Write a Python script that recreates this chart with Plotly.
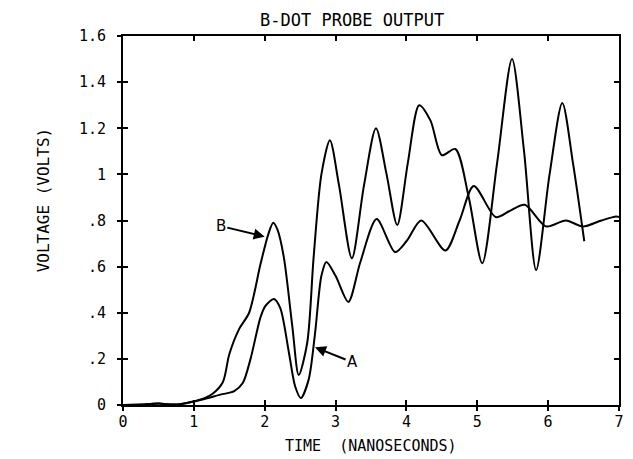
import plotly.graph_objects as go

# Curve A (lower, smoother trace)
t_a = [0, 0.3, 0.5, 0.7, 0.8, 1.0, 1.2, 1.36, 1.57, 1.69, 1.8, 1.94, 2.01, 2.13, 2.22, 2.34, 2.43,
       2.51, 2.62, 2.71, 2.80, 2.87, 3.0, 3.18, 3.35, 3.58, 3.84, 4.0, 4.21, 4.55, 4.75, 4.95,
       5.26, 5.45, 5.67, 5.97, 6.25, 6.49, 6.75, 6.96, 7.0]
v_a = [0, 0.002, 0.006, 0.002, 0.003, 0.015, 0.03, 0.044, 0.06, 0.095, 0.20, 0.38, 0.43, 0.46, 0.42, 0.23, 0.08,
       0.03, 0.11, 0.31, 0.56, 0.62, 0.56, 0.447, 0.62, 0.806, 0.663, 0.71, 0.80, 0.67, 0.80, 0.95,
       0.815, 0.84, 0.868, 0.774, 0.80, 0.774, 0.80, 0.817, 0.815]

# Curve B (oscillating trace)
t_b = [0, 0.3, 0.5, 0.7, 0.8, 0.99, 1.15, 1.27, 1.41, 1.50, 1.64, 1.78, 1.94, 2.05, 2.12, 2.18, 2.27,
       2.39, 2.48, 2.60, 2.69, 2.80, 2.92, 3.05, 3.23, 3.40, 3.57, 3.72, 3.87, 4.02, 4.18, 4.34,
       4.50, 4.69, 4.88, 5.07, 5.28, 5.49, 5.66, 5.83, 6.02, 6.20, 6.35, 6.51]
v_b = [0, 0.002, 0.006, 0.002, 0.003, 0.015, 0.03, 0.05, 0.10, 0.22, 0.33, 0.40, 0.61, 0.74, 0.79, 0.76, 0.64,
       0.34, 0.13, 0.27, 0.64, 1.0, 1.148, 0.95, 0.636, 0.95, 1.20, 1.0, 0.78, 1.05, 1.30, 1.233,
       1.083, 1.11, 0.90, 0.615, 1.05, 1.50, 1.1, 0.585, 1.0, 1.31, 1.05, 0.71]

x_ticks = [0, 1, 2, 3, 4, 5, 6, 7]
x_labels = ["0", "1", "2", "3", "4", "5", "6", "7"]
y_ticks = [0, 0.2, 0.4, 0.6, 0.8, 1.0, 1.2, 1.4, 1.6]
y_labels = ["0", ".2", ".4", ".6", ".8", "1", "1.2", "1.4", "1.6"]

title_text = "B-DOT PROBE OUTPUT"
x_title = "TIME  (NANOSECONDS)"
y_title = "VOLTAGE (VOLTS)"

FONT = "DejaVu Sans Mono"
PLOT_H = 369  # plot area height in px

fig = go.Figure()
line = dict(color="black", width=2, shape="spline", smoothing=0.8)
fig.add_trace(go.Scatter(x=t_a, y=v_a, mode="lines", line=line, showlegend=False, hoverinfo="skip"))
fig.add_trace(go.Scatter(x=t_b, y=v_b, mode="lines", line=line, showlegend=False, hoverinfo="skip"))
# invisible trace to activate overlay axes (used only for outward tick marks)
fig.add_trace(go.Scatter(x=[0], y=[0], xaxis="x2", yaxis="y2", mode="markers",
                         marker=dict(opacity=0), showlegend=False, hoverinfo="skip"))

tickfont = dict(family=FONT, size=15, color="black")
# page body has an 8px default margin, so the figure is drawn 8px smaller
fig.update_layout(
    width=625, height=451,
    margin=dict(l=115, r=9, t=28, b=54),
    paper_bgcolor="white", plot_bgcolor="white",
    xaxis=dict(range=[0, 7], tickvals=x_ticks, ticktext=x_labels, tickfont=tickfont,
               ticks="inside", ticklen=5, ticklabelstandoff=2,
               tickwidth=2, tickcolor="black", mirror="ticks", showline=True, linecolor="black",
               linewidth=2, showgrid=False, zeroline=False),
    yaxis=dict(range=[0, 1.6], tickvals=y_ticks, ticktext=y_labels, tickfont=tickfont,
               ticks="inside", ticklen=5, ticklabelstandoff=12,
               tickwidth=2, tickcolor="black", mirror="ticks", showline=True, linecolor="black",
               linewidth=2, showgrid=False, zeroline=False),
    xaxis2=dict(range=[0, 7], overlaying="x", side="bottom", tickvals=x_ticks, showticklabels=False,
                ticks="outside", ticklen=5, tickwidth=2, tickcolor="black",
                showline=False, showgrid=False, zeroline=False),
    yaxis2=dict(range=[0, 1.6], overlaying="y", side="left", tickvals=y_ticks, showticklabels=False,
                ticks="outside", ticklen=5, tickwidth=2, tickcolor="black",
                showline=False, showgrid=False, zeroline=False),
)

fig.add_annotation(text=title_text, xref="paper", yref="paper", x=0.461, y=1, yanchor="middle",
                   yshift=16, showarrow=False, font=dict(family=FONT, size=17, color="black"))
fig.add_annotation(text=x_title, xref="paper", yref="paper", x=0.5, y=0, yanchor="top", yshift=-30,
                   showarrow=False, font=dict(family=FONT, size=15, color="black"))
fig.add_annotation(text=y_title, xref="paper", yref="paper", x=0, y=0.556, xshift=-91, textangle=-90,
                   yanchor="middle", showarrow=False, font=dict(family=FONT, size=16, color="black"))

fig.add_annotation(text="B", x=2.0, y=0.73, ax=1.38, ay=0.776, axref="x", ayref="y",
                   showarrow=True, arrowhead=2, arrowsize=1.1, arrowwidth=2, arrowcolor="black",
                   font=dict(family="DejaVu Sans", size=15, color="black"))
fig.add_annotation(text="A", x=2.71, y=0.25, ax=3.24, ay=0.185, axref="x", ayref="y",
                   showarrow=True, arrowhead=2, arrowsize=1.1, arrowwidth=2, arrowcolor="black",
                   font=dict(family="DejaVu Sans", size=15, color="black"))

fig.write_html("out.html")
